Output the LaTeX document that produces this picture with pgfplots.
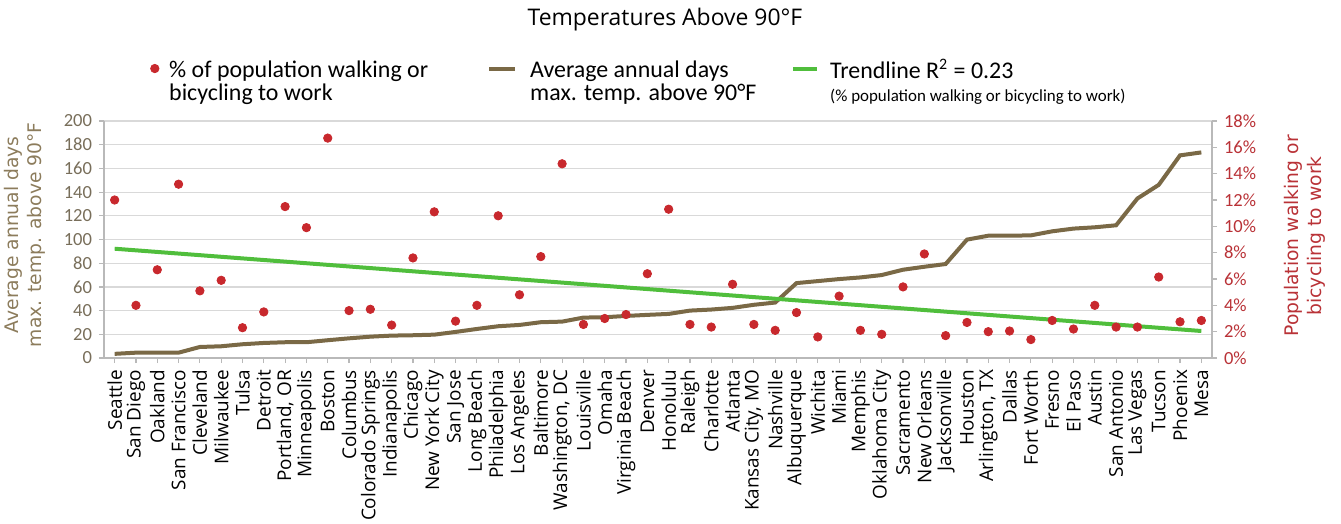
\documentclass[border=0pt]{standalone}
\usepackage{fontspec}
\setmainfont{Carlito}
\newfontfamily\labfont{Open Sans}
\newfontfamily\axfont{DejaVu Sans}
\usepackage{pgfplots}
\pgfplotsset{compat=1.18}
\usepackage{pgfplotstable}

\definecolor{brownline}{RGB}{122,105,70}
\definecolor{reddot}{RGB}{200,40,45}
\definecolor{greenline}{RGB}{80,190,60}
\definecolor{lefttick}{RGB}{120,110,90}
\definecolor{leftlab}{RGB}{140,124,92}
\definecolor{righttxt}{RGB}{185,50,55}
\definecolor{gridgray}{RGB}{217,217,217}
\definecolor{axisgray}{RGB}{185,185,185}

% idx, average annual days above 90F, % walking or cycling to work
\pgfplotstableread{
idx days pct
0 3.5 12.0
1 4.5 4.0
2 4.5 6.7
3 4.5 13.2
4 9.3 5.1
5 9.9 5.9
6 11.6 2.3
7 12.7 3.5
8 13.3 11.5
9 13.3 9.9
10 15.0 16.7
11 16.6 3.6
12 18.0 3.7
13 18.9 2.5
14 19.2 7.6
15 19.7 11.1
16 22.0 2.8
17 24.5 4.0
18 26.8 10.8
19 27.9 4.8
20 30.2 7.7
21 30.7 14.75
22 34.1 2.55
23 34.4 3.0
24 35.5 3.3
25 36.4 6.4
26 37.2 11.3
27 40.0 2.55
28 40.9 2.35
29 42.3 5.6
30 44.9 2.55
31 46.8 2.1
32 63.2 3.45
33 64.9 1.6
34 66.6 4.7
35 68.0 2.1
36 70.0 1.8
37 74.5 5.4
38 77.0 7.9
39 79.3 1.7
40 99.9 2.7
41 103.2 2.0
42 103.2 2.05
43 103.5 1.4
44 106.9 2.85
45 109.2 2.2
46 110.3 4.0
47 112.0 2.35
48 134.6 2.35
49 146.1 6.15
50 171.0 2.75
51 173.5 2.85
}\citydata

\pgfplotsset{
  common/.style={
    scale only axis, width=554bp, height=118.5bp,
    xmin=-0.5, xmax=51.5,
    axis line style={axisgray, line width=0.6bp, -},
    tick style={axisgray, line width=0.6bp},
    major tick length=2.5bp, tick align=outside,
    /pgf/number format/assume math mode=true,
  },
  dotimg/.style={legend image code/.code={%
    \path (0bp,0bp) (14bp,0bp); \draw[##1] plot coordinates {(7bp,1bp)};}},
  brownimg/.style={legend image code/.code={%
    \path (0bp,0bp) (19.5bp,0bp); \draw[##1] (0bp,1bp) -- (13bp,1bp);}},
  greenimg/.style={legend image code/.code={%
    \path (0bp,0bp) (17.5bp,0bp); \draw[##1] (0bp,1bp) -- (12bp,1bp);}},
}

\begin{document}
\begin{tikzpicture}
\useasboundingbox (-52bp,-83bp) rectangle (618.5bp,179bp);

\begin{axis}[common,
  ymin=0, ymax=200, ytick={0,20,...,200},
  axis y line*=left, axis x line*=bottom,
  xtick={0,...,51},
  xticklabels={Seattle, San Diego, Oakland, San Francisco, Cleveland, Milwaukee,
    Tulsa, Detroit, {Portland, OR}, Minneapolis, Boston, Columbus, Colorado Springs,
    Indianapolis, Chicago, New York City, San Jose, Long Beach, Philadelphia,
    Los Angeles, Baltimore, {Washington, DC}, Louisville, Omaha, Virginia Beach,
    Denver, Honolulu, Raleigh, Charlotte, Atlanta, {Kansas City, MO}, Nashville,
    Albuquerque, Wichita, Miami, Memphis, Oklahoma City, Sacramento, New Orleans,
    Jacksonville, Houston, {Arlington, TX}, Dallas, Fort Worth, Fresno, El Paso,
    Austin, San Antonio, Las Vegas, Tucson, Phoenix, Mesa},
  x tick label style={rotate=90, anchor=east, font=\labfont\fontsize{9.5}{10}\selectfont, text=black},
  y tick label style={font=\fontsize{9.3}{10}\selectfont, text=lefttick},
  ymajorgrids, grid style={gridgray, line width=0.6bp},
  ylabel={Average annual days\\max. temp. above 90°F},
  ylabel style={at={(axis description cs:-0.0713,0.52)}, anchor=center, align=center,
    font=\axfont\fontsize{9.4}{11.5}\selectfont, text=leftlab},
]
\addplot[brownline, line width=2bp, no marks] table[x=idx, y=days]{\citydata};
\end{axis}

\begin{axis}[common,
  ymin=0, ymax=18, ytick={0,2,...,18},
  axis y line*=right, axis x line=none,
  yticklabel={\pgfmathprintnumber{\tick}\%},
  y tick label style={font=\fontsize{9.3}{10}\selectfont, text=righttxt},
  ylabel={Population walking or\\bicycling to work},
  ylabel style={at={(axis description cs:1.084,0.515)}, anchor=center, align=center,
    font=\axfont\fontsize{9.4}{11.5}\selectfont, text=righttxt},
  legend columns=3, legend cell align=left,
  legend style={draw=none, fill=none, at={(axis description cs:0.0325,1.261)},
    anchor=north west, column sep=0pt, inner sep=0pt, nodes={inner sep=0pt},
    font=\fontsize{12}{11.5}\selectfont},
]
\addplot[only marks, mark=*, mark size=2.1bp, draw=reddot, fill=reddot, dotimg]
  table[x=idx, y=pct]{\citydata};
\addlegendentry{\parbox[t]{159bp}{\raggedright\% of population walking or\\bicycling to work}}
\addlegendimage{brownline, line width=2bp, brownimg}
\addlegendentry{\parbox[t]{130.5bp}{\raggedright Average annual days\\max. temp. above 90°F}}
\addplot[greenline, line width=2bp, no marks, greenimg]
  coordinates {(0,8.3) (51,2.05)};
\addlegendentry{\parbox[t]{200bp}{\raggedright Trendline R\textsuperscript{2} = 0.23\\{\fontsize{8.5}{9}\selectfont (\% population walking or bicycling to work)}}}
\end{axis}

\node[font=\labfont\fontsize{11.5}{13}\selectfont] at (280.5bp,169bp) {Temperatures Above 90°F};
\end{tikzpicture}
\end{document}
